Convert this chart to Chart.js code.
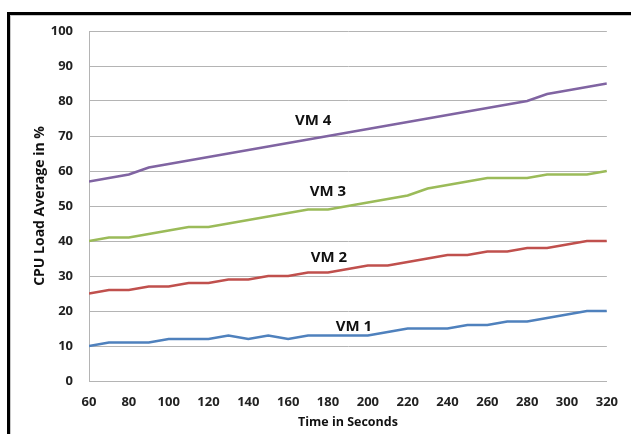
<!DOCTYPE html>
<html>
<head>
<meta charset="utf-8">
<script src="https://cdn.jsdelivr.net/npm/chart.js@4.4.1/dist/chart.umd.min.js"></script>
<style>
  html, body { margin: 0; padding: 0; background: #ffffff; }
  #wrap { position: relative; width: 631px; height: 434px; overflow: hidden; }
  #wrap canvas { position: absolute; left: 0; top: 0; }
  .frame { position: absolute; pointer-events: none; }
  #frameTop { left: 7px; top: 12px; width: 624px; height: 3px; background: #000; }
  #frameLeft { left: 7px; top: 12px; width: 3px; height: 422px; background: #000; }
  #innerTop { left: 10px; top: 15px; width: 621px; height: 1px; background: #c8c8c8; }
  #innerLeft { left: 10px; top: 15px; width: 1px; height: 419px; background: #c8c8c8; }
</style>
</head>
<body>
<div id="wrap">
  <canvas id="chart" width="631" height="434"></canvas>
  <div class="frame" id="frameTop"></div>
  <div class="frame" id="frameLeft"></div>
  <div class="frame" id="innerTop"></div>
  <div class="frame" id="innerLeft"></div>
</div>
<script>
// Sample times (seconds)
const times = [60, 70, 80, 90, 100, 110, 120, 130, 140, 150, 160, 170, 180, 190,
               200, 210, 220, 230, 240, 250, 260, 270, 280, 290, 300, 310, 320];

// CPU load average (%) per virtual machine
const vm1 = [10, 11, 11, 11, 12, 12, 12, 13, 12, 13, 12, 13, 13, 13,
             13, 14, 15, 15, 15, 16, 16, 17, 17, 18, 19, 20, 20];
const vm2 = [25, 26, 26, 27, 27, 28, 28, 29, 29, 30, 30, 31, 31, 32,
             33, 33, 34, 35, 36, 36, 37, 37, 38, 38, 39, 40, 40];
const vm3 = [40, 41, 41, 42, 43, 44, 44, 45, 46, 47, 48, 49, 49, 50,
             51, 52, 53, 55, 56, 57, 58, 58, 58, 59, 59, 59, 60];
const vm4 = [57, 58, 59, 61, 62, 63, 64, 65, 66, 67, 68, 69, 70, 71,
             72, 73, 74, 75, 76, 77, 78, 79, 80, 82, 83, 84, 85];

const seriesNames = ['VM 1', 'VM 2', 'VM 3', 'VM 4'];
const seriesColors = ['#4F81BD', '#C0504D', '#9BBB59', '#8064A2'];

// Where each series name is written, in data units (time, load)
const nameTimes = [193, 180.5, 180, 172.5];
const nameLoads = [15.4, 35.3, 54.1, 74.4];

const xTicks = { min: 60, max: 320, step: 20 };
const yTicks = { min: 0, max: 100, step: 10 };

const toPoints = (vals) => vals.map((v, i) => ({ x: times[i], y: v }));

const gridGray = '#b4b4b4';
const textColor = '#222222';
const fontFamily = '"Open Sans", "Liberation Sans", sans-serif';

// Draws the series names inside the plot, placed through the scales
const seriesNamePlugin = {
  id: 'seriesNames',
  afterDatasetsDraw(chart) {
    const { ctx, scales } = chart;
    ctx.save();
    ctx.font = 'bold 15px ' + fontFamily;
    ctx.fillStyle = '#111111';
    ctx.textAlign = 'center';
    ctx.textBaseline = 'middle';
    seriesNames.forEach((name, i) => {
      const px = scales.x.getPixelForValue(nameTimes[i]);
      const py = scales.y.getPixelForValue(nameLoads[i]);
      ctx.fillText(name, px, py);
    });
    ctx.restore();
  }
};

const datasets = [vm1, vm2, vm3, vm4].map((vals, i) => ({
  label: seriesNames[i],
  data: toPoints(vals),
  borderColor: seriesColors[i],
  backgroundColor: seriesColors[i],
  borderWidth: 2.7,
  pointRadius: 0,
  tension: 0,
  fill: false
}));

new Chart(document.getElementById('chart'), {
  type: 'line',
  data: { datasets },
  plugins: [seriesNamePlugin],
  options: {
    responsive: false,
    animation: false,
    layout: { padding: { top: 31, right: 20, bottom: 0, left: 0 } },
    plugins: {
      legend: { display: false },
      tooltip: { enabled: false }
    },
    scales: {
      x: {
        type: 'linear',
        min: xTicks.min,
        max: xTicks.max,
        afterFit(scale) { scale.height = 53; },
        ticks: {
          stepSize: xTicks.step,
          padding: 13,
          color: textColor,
          font: { family: fontFamily, size: 13, weight: 'bold' },
          maxRotation: 0
        },
        grid: { display: false, drawTicks: false },
        border: { display: true, color: gridGray, width: 1 },
        title: {
          display: true,
          text: 'Time in Seconds',
          color: '#111111',
          font: { family: fontFamily, size: 12.5, weight: 'bold' },
          padding: { top: 0, bottom: 4 }
        }
      },
      y: {
        min: yTicks.min,
        max: yTicks.max,
        afterFit(scale) { scale.width = 89; },
        ticks: {
          stepSize: yTicks.step,
          padding: 16,
          color: textColor,
          font: { family: fontFamily, size: 13, weight: 'bold' }
        },
        grid: { display: true, drawTicks: false, color: gridGray, lineWidth: 1 },
        border: { display: true, color: gridGray, width: 1 },
        title: {
          display: true,
          text: 'CPU Load Average in %',
          color: '#111111',
          font: { family: fontFamily, size: 14, weight: 'bold' },
          padding: { top: 32, bottom: 0 }
        }
      }
    }
  }
});
</script>
</body>
</html>
